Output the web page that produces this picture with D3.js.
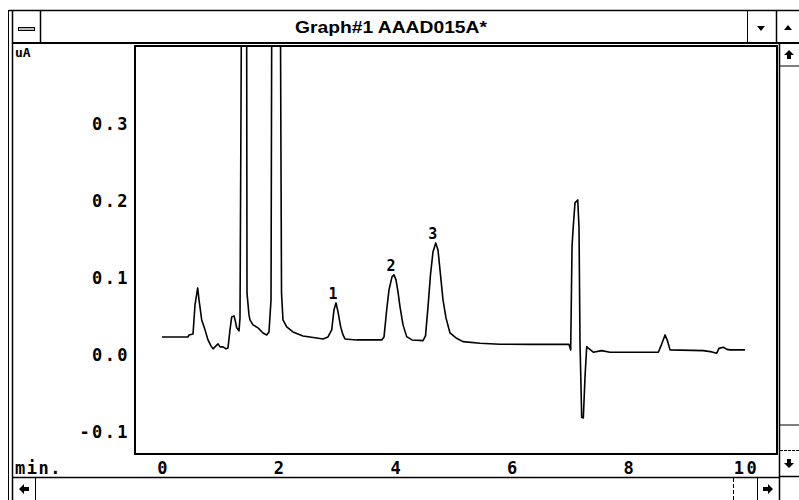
<!DOCTYPE html>
<html>
<head>
<meta charset="utf-8">
<script src="https://cdn.jsdelivr.net/npm/d3@7"></script>
<style>
  html, body { margin: 0; padding: 0; background: #fff; }
  svg { display: block; }
  .mono { font-family: "DejaVu Sans Mono", monospace; font-weight: bold; }
</style>
</head>
<body>
<div id="chart"></div>
<script>
// ---------------------------------------------------------------------------
// Data: [time (min), signal (uA)]
// (the two big solvent peaks run off the top, their apex values are a guess)
// ---------------------------------------------------------------------------
var trace = [
  [0.000, 0.0234], [0.446, 0.0234], [0.463, 0.0260], [0.532, 0.0273],
  [0.566, 0.0650], [0.612, 0.0872], [0.635, 0.0716], [0.681, 0.0456],
  [0.738, 0.0326], [0.789, 0.0195], [0.840, 0.0117], [0.875, 0.0078],
  [0.926, 0.0117], [0.961, 0.0143], [0.995, 0.0104], [1.046, 0.0104],
  [1.098, 0.0078], [1.132, 0.0091], [1.166, 0.0326], [1.196, 0.0495],
  [1.235, 0.0508], [1.261, 0.0430], [1.281, 0.0352], [1.321, 0.0313],
  [1.338, 0.0482], [1.355, 0.3190], [1.372, 0.6200], [1.449, 0.6200],
  [1.458, 0.0807], [1.492, 0.0521], [1.509, 0.0456], [1.561, 0.0391],
  [1.647, 0.0352], [1.732, 0.0286], [1.796, 0.0260], [1.835, 0.0299],
  [1.870, 0.0716], [1.887, 0.5800], [2.024, 0.5800], [2.050, 0.0807],
  [2.075, 0.0456], [2.139, 0.0365], [2.247, 0.0299], [2.419, 0.0247],
  [2.653, 0.0221], [2.762, 0.0208], [2.847, 0.0234], [2.911, 0.0326],
  [2.950, 0.0586], [2.985, 0.0677], [3.019, 0.0560], [3.065, 0.0365],
  [3.105, 0.0260], [3.139, 0.0208], [3.340, 0.0195], [3.768, 0.0195],
  [3.808, 0.0234], [3.854, 0.0586], [3.894, 0.0846], [3.945, 0.1016],
  [3.979, 0.1042], [4.014, 0.0977], [4.048, 0.0820], [4.082, 0.0629],
  [4.134, 0.0391], [4.197, 0.0238], [4.288, 0.0195], [4.477, 0.0186],
  [4.520, 0.0247], [4.563, 0.0629], [4.605, 0.1042], [4.648, 0.1341],
  [4.695, 0.1458], [4.734, 0.1367], [4.777, 0.1042], [4.820, 0.0716],
  [4.871, 0.0482], [4.940, 0.0286], [5.043, 0.0221], [5.163, 0.0173],
  [5.455, 0.0152], [5.798, 0.0139], [6.312, 0.0137], [6.981, 0.0137],
  [7.010, 0.0065], [7.033, 0.1410], [7.050, 0.1628], [7.084, 0.1979],
  [7.131, 0.2018], [7.153, 0.1654], [7.170, 0.0156], [7.199, -0.0814],
  [7.227, -0.0820], [7.256, -0.0283], [7.285, 0.0108], [7.312, 0.0087],
  [7.398, 0.0035], [7.542, 0.0056], [7.684, 0.0035], [8.513, 0.0035],
  [8.559, 0.0117], [8.628, 0.0260], [8.671, 0.0182], [8.714, 0.0065],
  [9.285, 0.0056], [9.434, 0.0039], [9.515, 0.0022], [9.554, 0.0085],
  [9.628, 0.0100], [9.691, 0.0072], [9.743, 0.0065], [10.000, 0.0065]
];

var peakNames = ["1", "2", "3"];
var peakTimes = [2.985, 3.979, 4.695];
var peakHeights = [0.0677, 0.1042, 0.1458];

var xTicks = [0, 2, 4, 6, 8, 10];
var yTicks = [-0.1, 0.0, 0.1, 0.2, 0.3];

var title = "Graph#1 AAAD015A*";
var yUnit = "uA";
var xUnit = "min.";

//==========================================================================
// Layout
//==========================================================================
var width = 799, height = 500;
var plot = { left: 135, top: 46, right: 777, bottom: 454 };

var svg = d3.select("#chart").append("svg")
    .attr("width", width)
    .attr("height", height);

var x = d3.scaleLinear().domain([0, 10]).range([162, 745]);
var y = d3.scaleLinear().domain([-0.1, 0.3]).range([431.7, 124.5]);

//--------------------------------------------------------------------------
// Window chrome (old Windows 3.x MDI child)
//--------------------------------------------------------------------------
function hline(x1, x2, yy, w) {
    svg.append("line").attr("x1", x1).attr("x2", x2).attr("y1", yy).attr("y2", yy)
        .attr("stroke", "#000").attr("stroke-width", w || 1);
}
function vline(xx, y1, y2, w) {
    svg.append("line").attr("x1", xx).attr("x2", xx).attr("y1", y1).attr("y2", y2)
        .attr("stroke", "#000").attr("stroke-width", w || 1);
}
function glyph(d) {
    svg.append("path").attr("d", d).attr("fill", "#000");
}

hline(9, 799, 10.5, 1.5);          // window top
vline(8.5, 10, 500, 1);            // outer left frame
vline(12.5, 10, 500, 1.5);         // inner left frame
hline(13, 799, 43, 2);             // title bar bottom
vline(40.5, 10, 43, 1.5);          // system menu box
vline(747.5, 10, 43, 1);           // minimize box
vline(776.5, 10, 43, 1.5);         // maximize box

svg.append("rect").attr("x", 18.5).attr("y", 27.5).attr("width", 16).attr("height", 3)
    .attr("fill", "#bbb").attr("stroke", "#000").attr("stroke-width", 1);

glyph("M757,26 L765,26 L761,31 Z");              // down triangle
glyph("M784,30 L792,30 L788,25 Z");              // up triangle

svg.append("text")
    .attr("x", 295).attr("y", 33)
    .attr("textLength", 192).attr("lengthAdjust", "spacingAndGlyphs")
    .style("font-family", "'Liberation Sans', Arial, sans-serif")
    .style("font-weight", "bold")
    .style("font-size", "17px")
    .text(title);

// vertical scrollbar
vline(779.5, 43, 500, 1.5);
hline(780, 799, 66, 1);
hline(780, 799, 425, 1);
svg.append("line").attr("x1", 780).attr("x2", 799).attr("y1", 450.5).attr("y2", 450.5)
    .attr("stroke", "#000").attr("stroke-dasharray", "3,1");
hline(780, 799, 476.5, 1.5);
glyph("M784,55 L789,50 L794,55 L791,55 L791,59 L787,59 L787,55 Z");   // up arrow
glyph("M784,463 L789,468 L794,463 L791,463 L791,459 L787,459 L787,463 Z"); // down arrow

// horizontal scrollbar
hline(13, 779, 477.5, 1.5);
vline(35.5, 478, 500, 1);
svg.append("line").attr("x1", 733.5).attr("x2", 733.5).attr("y1", 478).attr("y2", 500)
    .attr("stroke", "#000").attr("stroke-dasharray", "4,2");
vline(757.5, 478, 500, 1);
glyph("M19,489 L24,484 L24,487 L29,487 L29,491 L24,491 L24,494 Z");     // left arrow
glyph("M773,489 L768,484 L768,487 L763,487 L763,491 L768,491 L768,494 Z"); // right arrow

//--------------------------------------------------------------------------
// Plot frame
//--------------------------------------------------------------------------
svg.append("rect")
    .attr("x", plot.left).attr("y", plot.top)
    .attr("width", plot.right - plot.left).attr("height", plot.bottom - plot.top)
    .attr("fill", "none").attr("stroke", "#000").attr("stroke-width", 2);

svg.append("clipPath").attr("id", "clip")
    .append("rect")
    .attr("x", plot.left + 1).attr("y", plot.top + 1)
    .attr("width", plot.right - plot.left - 2).attr("height", plot.bottom - plot.top - 2);

//--------------------------------------------------------------------------
// Axes (labels only, no tick marks)
//--------------------------------------------------------------------------
var yAxis = svg.append("g")
    .attr("class", "mono")
    .attr("transform", "translate(" + plot.left + ",0)")
    .call(d3.axisLeft(y).tickValues(yTicks).tickSize(0).tickPadding(5)
        .tickFormat(function(d) { return d3.format(".1f")(d).replace("−", "-"); }));
yAxis.select(".domain").remove();
yAxis.selectAll("text")
    .attr("fill", "#000")
    .style("font-size", "17px")
    .style("letter-spacing", "2.4px");

var xAxis = svg.append("g")
    .attr("class", "mono")
    .attr("transform", "translate(0," + plot.bottom + ")")
    .call(d3.axisBottom(x).tickValues(xTicks).tickSize(0).tickPadding(8));
xAxis.select(".domain").remove();
xAxis.selectAll("text")
    .attr("fill", "#000")
    .attr("dx", "1px")
    .style("font-size", "17px")
    .style("letter-spacing", "2.4px");

svg.append("text")
    .attr("class", "mono")
    .attr("x", 15).attr("y", 474)
    .style("font-size", "17px")
    .style("letter-spacing", "1.5px")
    .text(xUnit);

svg.append("text")
    .attr("class", "mono")
    .attr("x", 15).attr("y", 57)
    .style("font-size", "13px")
    .text(yUnit);

//--------------------------------------------------------------------------
// Trace
//--------------------------------------------------------------------------
var line = d3.line()
    .x(function(d) { return x(d[0]); })
    .y(function(d) { return y(d[1]); });

svg.append("g").attr("clip-path", "url(#clip)")
    .append("path")
    .datum(trace)
    .attr("d", line)
    .attr("fill", "none")
    .attr("stroke", "#000")
    .attr("stroke-width", 1.6)
    .attr("stroke-linejoin", "round");

//--------------------------------------------------------------------------
// Peak numbers
//--------------------------------------------------------------------------
svg.selectAll(".peak")
    .data(peakNames)
    .enter()
    .append("text")
    .attr("class", "mono peak")
    .attr("x", function(d, i) { return x(peakTimes[i]) - 3; })
    .attr("y", function(d, i) { return y(peakHeights[i]) - 4; })
    .attr("text-anchor", "middle")
    .style("font-size", "15px")
    .text(function(d) { return d; });
</script>
</body>
</html>
